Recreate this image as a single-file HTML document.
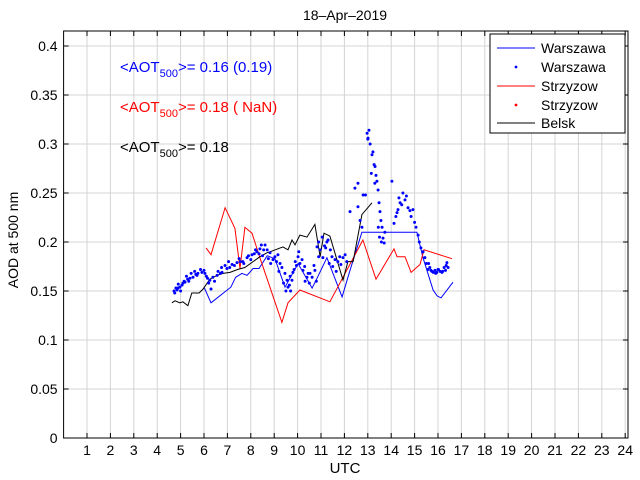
<!DOCTYPE html>
<html><head><meta charset="utf-8"><style>
body{margin:0;background:#fff}
svg{display:block;font-family:"Liberation Sans",sans-serif}
</style></head><body>
<svg id="chart" width="640" height="480" viewBox="0 0 640 480">
<rect width="640" height="480" fill="#fff"/>
<g id="grid"></g>
<g id="series"></g>
<rect x="63.6" y="31" width="564.4" height="407" fill="none" stroke="#000" stroke-width="1"/>
<g id="ticks"></g>
<text x="345" y="20" font-size="14" text-anchor="middle">18–Apr–2019</text>
<text x="345" y="473" font-size="15" text-anchor="middle">UTC</text>
<text transform="translate(18,240) rotate(-90)" font-size="14" text-anchor="middle">AOD at 500 nm</text>
<text x="120" y="72" font-size="15" fill="#0000ff">&lt;AOT<tspan font-size="11" dy="5">500</tspan><tspan dy="-5">&gt;= 0.16 (0.19)</tspan></text>
<text x="120" y="112" font-size="15" fill="#ff0000">&lt;AOT<tspan font-size="11" dy="5">500</tspan><tspan dy="-5">&gt;= 0.18 ( NaN)</tspan></text>
<text x="120" y="152" font-size="15" fill="#000">&lt;AOT<tspan font-size="11" dy="5">500</tspan><tspan dy="-5">&gt;= 0.18</tspan></text>
<g>
<rect x="490" y="34" width="135" height="99" fill="#fff" stroke="#000"/>
<line x1="497" y1="48" x2="535" y2="48" stroke="#0000ff"/>
<text x="541" y="53" font-size="14">Warszawa</text>
<circle cx="516" cy="67" r="1.4" fill="#0000ff"/>
<text x="541" y="72" font-size="14">Warszawa</text>
<line x1="497" y1="86" x2="535" y2="86" stroke="#ff0000"/>
<text x="541" y="91" font-size="14">Strzyzow</text>
<circle cx="516" cy="105" r="1.4" fill="#ff0000"/>
<text x="541" y="110" font-size="14">Strzyzow</text>
<line x1="497" y1="123" x2="535" y2="123" stroke="#000"/>
<text x="541" y="128" font-size="14">Belsk</text>
</g>
</svg>
<script>
const xTicks=[1,2,3,4,5,6,7,8,9,10,11,12,13,14,15,16,17,18,19,20,21,22,23,24];
const yTicks=[0,0.05,0.1,0.15,0.2,0.25,0.3,0.35,0.4];
const yTickLabels=["0","0.05","0.1","0.15","0.2","0.25","0.3","0.35","0.4"];
const strzH=[6.09,6.30,6.90,7.32,7.54,7.75,8.05,8.39,9.33,9.59,10.10,11.38,12.79,13.35,14.12,14.25,14.59,14.85,15.23,15.40,16.60];
const strzA=[0.194,0.187,0.235,0.214,0.173,0.215,0.209,0.184,0.118,0.138,0.151,0.139,0.202,0.162,0.193,0.185,0.185,0.169,0.177,0.192,0.183];
const warH=[6.00,6.30,7.15,7.35,7.62,7.84,8.10,8.35,8.70,9.03,9.46,10.02,10.62,10.83,11.25,11.90,12.24,12.75,15.10,15.36,15.79,15.96,16.13,16.64];
const warA=[0.154,0.138,0.154,0.164,0.168,0.166,0.173,0.173,0.186,0.183,0.154,0.178,0.153,0.163,0.184,0.144,0.171,0.210,0.210,0.184,0.151,0.145,0.143,0.159];
const belH=[4.63,4.76,4.97,5.10,5.31,5.48,5.61,5.79,5.96,6.25,6.56,6.81,7.11,7.45,7.75,8.10,8.39,8.69,8.82,9.37,9.59,9.76,9.89,10.10,10.40,10.74,10.96,11.13,11.38,11.68,11.94,12.15,12.37,12.75,13.18];
const belA=[0.138,0.140,0.138,0.139,0.135,0.148,0.148,0.148,0.152,0.162,0.166,0.168,0.169,0.172,0.174,0.180,0.185,0.189,0.190,0.195,0.192,0.202,0.197,0.207,0.205,0.218,0.185,0.209,0.206,0.182,0.161,0.180,0.180,0.228,0.240];
const dotH=[4.72,4.80,4.85,4.89,4.97,5.06,5.10,5.19,5.30,5.40,5.53,5.65,5.74,5.91,6.04,6.15,6.25,6.38,6.56,6.70,6.77,6.98,7.10,7.20,7.41,7.55,7.66,7.84,8.05,8.15,8.26,8.39,8.50,8.61,8.70,8.82,8.95,9.03,9.16,9.25,9.33,9.46,9.55,9.59,9.68,9.76,9.80,9.90,10.02,10.10,10.19,10.23,10.32,10.40,10.53,10.62,10.74,10.83,10.90,10.96,11.08,11.15,11.25,11.30,11.40,11.47,11.60,11.72,11.85,11.94,12.03,12.24,12.45,12.58,12.58,12.67,12.75,12.80,12.90,12.97,13.01,13.05,13.10,13.18,13.22,13.27,13.31,13.35,13.39,13.44,13.48,13.52,13.56,13.61,13.65,13.70,13.73,14.03,14.12,14.20,14.25,14.29,14.33,14.38,14.45,14.50,14.59,14.65,14.72,14.80,14.85,14.93,15.00,15.06,15.15,15.20,15.27,15.36,15.44,15.50,15.57,15.65,15.74,15.80,15.87,15.95,16.02,16.09,16.17,16.26,16.32,16.38,16.43,
4.75,4.90,5.00,5.15,5.25,5.35,5.45,5.60,5.70,5.85,6.00,6.10,6.20,6.30,6.45,6.60,6.75,6.90,7.05,7.30,7.50,7.70,7.90,8.00,8.20,8.35,8.45,8.55,8.75,8.85,9.10,9.20,9.40,9.50,9.65,9.70,9.85,9.95,10.05,10.30,10.45,10.50,10.70,10.80,10.90,11.05,11.20,11.35,11.50,11.65,11.80,12.10,13.00,13.15,13.30,13.45,13.50,13.58,15.60,15.70,15.90,16.00,16.20,16.35];
const dotA=[0.150,0.153,0.151,0.153,0.154,0.156,0.158,0.159,0.162,0.163,0.164,0.167,0.168,0.169,0.168,0.163,0.161,0.164,0.166,0.168,0.169,0.173,0.174,0.177,0.179,0.180,0.180,0.184,0.187,0.188,0.190,0.193,0.186,0.197,0.192,0.189,0.182,0.185,0.187,0.178,0.174,0.168,0.161,0.154,0.165,0.161,0.169,0.180,0.185,0.178,0.182,0.171,0.160,0.164,0.168,0.164,0.171,0.195,0.185,0.192,0.184,0.196,0.200,0.202,0.192,0.185,0.182,0.180,0.177,0.184,0.187,0.231,0.255,0.260,0.236,0.222,0.215,0.248,0.248,0.311,0.306,0.314,0.300,0.289,0.292,0.279,0.277,0.268,0.262,0.253,0.240,0.231,0.222,0.215,0.204,0.199,0.210,0.262,0.219,0.226,0.230,0.233,0.245,0.240,0.238,0.250,0.243,0.247,0.235,0.232,0.226,0.233,0.220,0.215,0.207,0.200,0.194,0.190,0.184,0.178,0.172,0.174,0.170,0.169,0.171,0.169,0.172,0.170,0.169,0.174,0.171,0.179,0.174,
0.148,0.157,0.150,0.160,0.165,0.160,0.168,0.170,0.166,0.172,0.171,0.165,0.158,0.152,0.160,0.170,0.174,0.176,0.180,0.176,0.183,0.178,0.186,0.182,0.192,0.188,0.197,0.192,0.183,0.178,0.180,0.170,0.158,0.150,0.156,0.150,0.172,0.176,0.190,0.175,0.168,0.158,0.176,0.160,0.200,0.205,0.194,0.178,0.175,0.170,0.185,0.180,0.305,0.270,0.260,0.215,0.205,0.200,0.178,0.171,0.168,0.172,0.170,0.176];

const NS="http://www.w3.org/2000/svg";
const X0=63.6,PX=23.4,Y0=438,PY=980,XR=628,YT=31;
function sx(h){return X0+h*PX;}
function sy(a){return Y0-a*PY;}
function mk(tag,attrs,parent){const e=document.createElementNS(NS,tag);for(const k in attrs)e.setAttribute(k,attrs[k]);parent.appendChild(e);return e;}
const grid=document.getElementById('grid'),ticks=document.getElementById('ticks'),series=document.getElementById('series');
xTicks.forEach(t=>{
  const g=mk('line',{x1:sx(t),x2:sx(t),y1:YT,y2:Y0,stroke:'#d4d4d4','stroke-width':1},grid);
  
  
  const a=mk('line',{x1:sx(t),x2:sx(t),y1:Y0,y2:Y0-5,stroke:'#000'},ticks);
  
  
  const b=mk('line',{x1:sx(t),x2:sx(t),y1:YT,y2:YT+5,stroke:'#000'},ticks);
  
  
  const tx=mk('text',{x:sx(t),y:Y0+17,'font-size':14,'text-anchor':'middle'},ticks);
  tx.textContent=String(t);
  
  
});
yTicks.forEach((t,i)=>{
  const g=mk('line',{x1:X0,x2:XR,y1:sy(t),y2:sy(t),stroke:'#d4d4d4','stroke-width':1},grid);
  
  
  const a=mk('line',{x1:X0,x2:X0+5,y1:sy(t),y2:sy(t),stroke:'#000'},ticks);
  
  
  const b=mk('line',{x1:XR,x2:XR-5,y1:sy(t),y2:sy(t),stroke:'#000'},ticks);
  
  
  const tx=mk('text',{x:X0-6,y:sy(t)+5,'font-size':14,'text-anchor':'end'},ticks);
  tx.textContent=yTickLabels[i];
  
  
});
function line(H,A,color,name){
  const n=Math.min(H.length,A.length);
  const pts=[];for(let i=0;i<n;i++)pts.push(sx(H[i]).toFixed(1)+','+sy(A[i]).toFixed(1));
  const p=mk('polyline',{points:pts.join(' '),fill:'none',stroke:color,'stroke-width':1},series);
  
  
}
line(warH,warA,'#0000ff','warszawa-line');
line(strzH,strzA,'#ff0000','strzyzow-line');
line(belH,belA,'#000000','belsk-line');
const n=Math.min(dotH.length,dotA.length);
for(let i=0;i<n;i++){
  const c=mk('circle',{cx:sx(dotH[i]),cy:sy(dotA[i]),r:1.5,fill:'#0000ff'},series);
  
  
}
</script>
</body></html>
